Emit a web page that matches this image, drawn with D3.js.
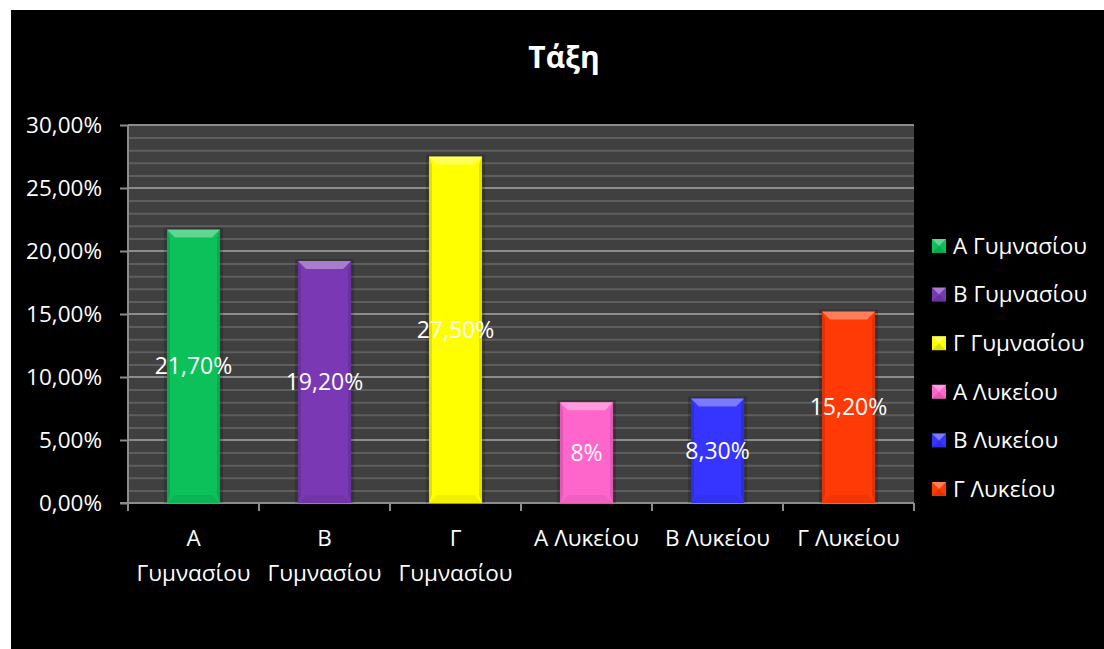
<!DOCTYPE html>
<html>
<head>
<meta charset="utf-8">
<script src="https://cdn.jsdelivr.net/npm/d3@7"></script>
<style>
  html, body { margin: 0; padding: 0; background: #fff; }
  svg { display: block; }
  text { font-family: "Open Sans", "Noto Sans", sans-serif; }
</style>
</head>
<body>
<svg id="chart" width="1104" height="649"></svg>
<script>
// Class distribution data
const categories = ["Α Γυμνασίου", "Β Γυμνασίου", "Γ Γυμνασίου", "Α Λυκείου", "Β Λυκείου", "Γ Λυκείου"];
const axisLabels = [["Α", "Γυμνασίου"], ["Β", "Γυμνασίου"], ["Γ", "Γυμνασίου"], ["Α Λυκείου"], ["Β Λυκείου"], ["Γ Λυκείου"]];
const values = [21.7, 19.2, 27.5, 8, 8.3, 15.2];
const valueLabels = ["21,70%", "19,20%", "27,50%", "8%", "8,30%", "15,20%"];
const colors = ["#0cc05a", "#7a38b4", "#ffff00", "#ff66cc", "#3535ff", "#ff3a06"];
const yTicks = [0, 5, 10, 15, 20, 25, 30];
const title = "Τάξη";

const svg = d3.select("#chart");

// chart frame
svg.append("rect").attr("x", 11).attr("y", 10).attr("width", 1093).attr("height", 639).attr("fill", "#000");

const plot = { left: 128, right: 914, top: 125, bottom: 503 };

const x = d3.scaleBand().domain(categories).range([plot.left, plot.right]).paddingInner(0.595).paddingOuter(0.2975);
const y = d3.scaleLinear().domain([0, 30]).range([plot.bottom, plot.top]);

// plot background
svg.append("rect")
  .attr("x", plot.left).attr("y", plot.top)
  .attr("width", plot.right - plot.left).attr("height", plot.bottom - plot.top)
  .attr("fill", "#404040");

// minor gridlines every 1%
const minor = d3.range(1, 30).filter(v => v % 5 !== 0);
svg.append("g").selectAll("line").data(minor).join("line")
  .attr("x1", plot.left).attr("x2", plot.right)
  .attr("y1", d => y(d) + 0.5).attr("y2", d => y(d) + 0.5)
  .attr("stroke", "#5e5e5e").attr("stroke-width", 2);

// major gridlines
svg.append("g").selectAll("line").data(yTicks.filter(d => d > 0)).join("line")
  .attr("x1", plot.left).attr("x2", plot.right)
  .attr("y1", d => y(d)).attr("y2", d => y(d))
  .attr("stroke", "#8c8c8c").attr("stroke-width", 2);

// y axis
const yAxis = svg.append("g").attr("transform", `translate(${plot.left},0)`)
  .call(d3.axisLeft(y).tickValues(yTicks).tickSize(8).tickPadding(6)
    .tickFormat(d => d3.format(".2f")(d).replace(".", ",") + "%"));
yAxis.select(".domain").attr("stroke", "#8c8c8c").attr("stroke-width", 2).attr("d", `M0,${plot.top}V${plot.bottom}`);
yAxis.selectAll(".tick line").attr("stroke", "#8c8c8c").attr("stroke-width", 2);
yAxis.selectAll(".tick text").attr("fill", "#fff").attr("font-size", 22.5).attr("dy", "0.35em").attr("x", -26);

// x axis line and ticks at category boundaries
const bounds = d3.range(0, categories.length + 1).map(i => plot.left + i * (plot.right - plot.left) / categories.length);
svg.append("line").attr("x1", plot.left - 8).attr("x2", plot.right)
  .attr("y1", plot.bottom).attr("y2", plot.bottom)
  .attr("stroke", "#8c8c8c").attr("stroke-width", 2);
svg.append("g").selectAll("line").data(bounds).join("line")
  .attr("x1", d => d).attr("x2", d => d)
  .attr("y1", plot.bottom).attr("y2", plot.bottom + 8)
  .attr("stroke", "#8c8c8c").attr("stroke-width", 2);

// category labels
const xl = svg.append("g").selectAll("text").data(categories).join("text")
  .attr("x", d => x(d) + x.bandwidth() / 2)
  .attr("y", 546)
  .attr("text-anchor", "middle")
  .attr("fill", "#fff").attr("font-size", 22.5);
xl.each(function(d, i) {
  const t = d3.select(this);
  axisLabels[i].forEach((line, j) => {
    t.append("tspan").attr("x", x(d) + x.bandwidth() / 2).attr("dy", j === 0 ? 0 : 35).text(line);
  });
});

// bars with bevelled faces
const bevel = 8;
const side = 3;
const bars = svg.append("g").selectAll("g").data(categories).join("g");
bars.each(function(d, i) {
  const g = d3.select(this);
  const x0 = x(d), w = x.bandwidth();
  const y0 = y(values[i]), y1 = y(0);
  // soft shadow
  g.append("rect").attr("x", x0 - 3).attr("y", y0 - 2).attr("width", w + 6).attr("height", y1 - y0 + 2)
    .attr("fill", "#000").attr("opacity", 0.18);
  g.append("rect").attr("x", x0).attr("y", y0).attr("width", w).attr("height", y1 - y0)
    .attr("fill", colors[i]);
  // top facet
  g.append("polygon")
    .attr("points", [[x0, y0], [x0 + w, y0], [x0 + w - bevel, y0 + bevel], [x0 + bevel, y0 + bevel]].join(" "))
    .attr("fill", "#fff").attr("opacity", 0.35);
  // bottom facet
  g.append("polygon")
    .attr("points", [[x0, y1], [x0 + w, y1], [x0 + w - bevel, y1 - bevel], [x0 + bevel, y1 - bevel]].join(" "))
    .attr("fill", "#000").attr("opacity", 0.06);
  // side facets
  g.append("polygon")
    .attr("points", [[x0, y0], [x0 + side, y0 + bevel], [x0 + side, y1 - bevel], [x0, y1]].join(" "))
    .attr("fill", "#000").attr("opacity", 0.12);
  g.append("polygon")
    .attr("points", [[x0 + w, y0], [x0 + w - side, y0 + bevel], [x0 + w - side, y1 - bevel], [x0 + w, y1]].join(" "))
    .attr("fill", "#000").attr("opacity", 0.12);
  // value label
  g.append("text")
    .attr("x", x0 + w / 2).attr("y", (y0 + y1) / 2)
    .attr("dy", "0.35em").attr("text-anchor", "middle")
    .attr("fill", "#fff").attr("font-size", 23)
    .text(valueLabels[i]);
});

// title
svg.append("text").attr("x", 564).attr("y", 68).attr("text-anchor", "middle")
  .attr("fill", "#fff").attr("font-size", 30).attr("font-weight", "bold").text(title);

// legend
const legend = svg.append("g").selectAll("g").data(categories).join("g")
  .attr("transform", (d, i) => `translate(932, ${246 + i * 48.6})`);
legend.each(function(d, i) {
  const g = d3.select(this);
  const s = 14;
  g.append("rect").attr("x", 0).attr("y", -s / 2).attr("width", s).attr("height", s).attr("fill", colors[i]);
  g.append("polygon").attr("points", [[0, -s / 2], [s, -s / 2], [s / 2, 0]].join(" ")).attr("fill", "#fff").attr("opacity", 0.35);
  g.append("polygon").attr("points", [[0, s / 2], [s, s / 2], [s / 2, 0]].join(" ")).attr("fill", "#000").attr("opacity", 0.12);
  g.append("text").attr("x", 21).attr("y", 0).attr("dy", "0.35em")
    .attr("fill", "#fff").attr("font-size", 22.5).text(d);
});
</script>
</body>
</html>
